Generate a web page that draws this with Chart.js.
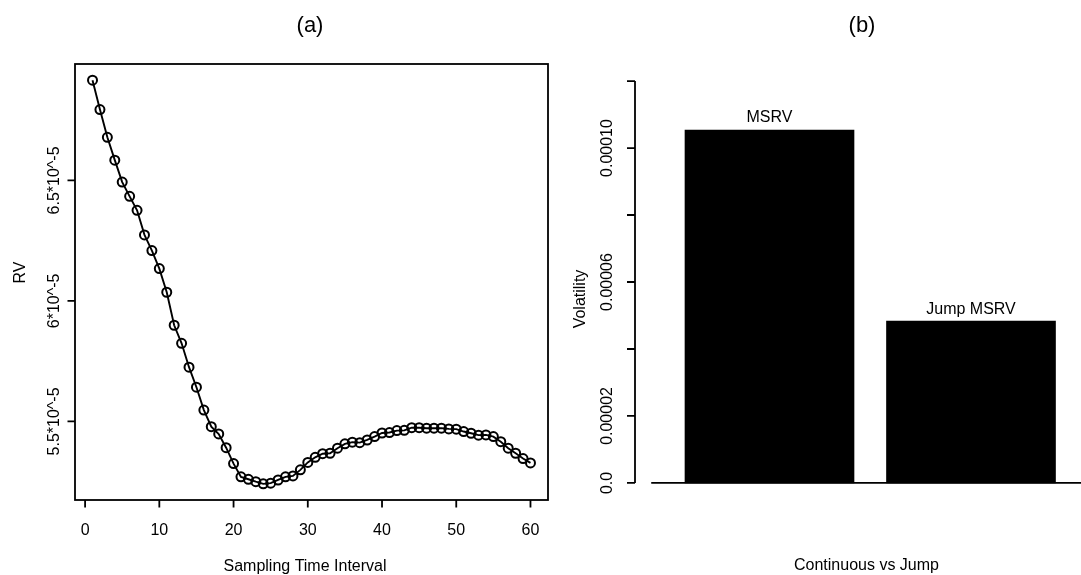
<!DOCTYPE html>
<html>
<head>
<meta charset="utf-8">
<script src="https://cdn.jsdelivr.net/npm/chart.js@4.4.0/dist/chart.umd.min.js"></script>
<style>
    body { margin: 0; background: #fff; overflow: hidden; width: 1081px; height: 575px; position: relative; }
    canvas { position: absolute; top: 0; }
    #rv-chart { left: 0; }
    #vol-chart { left: 540px; }
</style>
</head>
<body>
<canvas id="rv-chart" width="570" height="575"></canvas>
<canvas id="vol-chart" width="560" height="575"></canvas>
<script type="text/javascript">

    // panel (a): RV against sampling interval
    var intervals = [1, 2, 3, 4, 5, 6, 7, 8, 9, 10, 11, 12, 13, 14, 15, 16, 17, 18, 19, 20,
        21, 22, 23, 24, 25, 26, 27, 28, 29, 30, 31, 32, 33, 34, 35, 36, 37, 38, 39, 40,
        41, 42, 43, 44, 45, 46, 47, 48, 49, 50, 51, 52, 53, 54, 55, 56, 57, 58, 59, 60];
    var rvValues = [6.916e-5, 6.794e-5, 6.679e-5, 6.584e-5, 6.493e-5, 6.434e-5, 6.376e-5, 6.274e-5, 6.209e-5, 6.134e-5,
        6.036e-5, 5.899e-5, 5.824e-5, 5.725e-5, 5.642e-5, 5.547e-5, 5.478e-5, 5.448e-5, 5.391e-5, 5.325e-5,
        5.270e-5, 5.260e-5, 5.250e-5, 5.241e-5, 5.244e-5, 5.257e-5, 5.270e-5, 5.274e-5, 5.299e-5, 5.330e-5,
        5.351e-5, 5.366e-5, 5.368e-5, 5.389e-5, 5.407e-5, 5.414e-5, 5.412e-5, 5.423e-5, 5.437e-5, 5.452e-5,
        5.454e-5, 5.462e-5, 5.463e-5, 5.474e-5, 5.474e-5, 5.472e-5, 5.472e-5, 5.472e-5, 5.469e-5, 5.468e-5,
        5.458e-5, 5.451e-5, 5.443e-5, 5.444e-5, 5.437e-5, 5.416e-5, 5.389e-5, 5.368e-5, 5.346e-5, 5.328e-5];
    var rvXTicks = [0, 10, 20, 30, 40, 50, 60];
    var rvYTicks = [5.5e-5, 6e-5, 6.5e-5];
    var rvYTickLabels = ['5.5*10^-5', '6*10^-5', '6.5*10^-5'];

    // panel (b): continuous vs jump volatility
    var barNames = ['MSRV', 'Jump MSRV'];
    var barValues = [1.054e-4, 4.83e-5];
    var volTicks = [0, 2e-5, 4e-5, 6e-5, 8e-5, 1e-4, 1.2e-4];
    var volTickLabels = ['0.0', '0.00002', '', '0.00006', '', '0.00010', ''];

    var FONT = "'Liberation Sans', Arial, sans-serif";

    function vText(ctx, text, x, y) {
        // reads bottom-to-top, baseline on the right at x
        ctx.save();
        ctx.translate(x, y);
        ctx.rotate(-Math.PI / 2);
        ctx.textAlign = 'center';
        ctx.textBaseline = 'alphabetic';
        ctx.fillText(text, 0, 0);
        ctx.restore();
    }

    var rvAxes = {
        id: 'rvAxes',
        afterDraw: function(chart) {
            var ctx = chart.ctx, a = chart.chartArea;
            var xs = chart.scales.x, ys = chart.scales.y;
            ctx.save();
            ctx.strokeStyle = '#000';
            ctx.fillStyle = '#000';
            ctx.lineWidth = 1.8;
            ctx.strokeRect(a.left, a.top, a.right - a.left, a.bottom - a.top);

            ctx.font = '16px ' + FONT;
            ctx.textAlign = 'center';
            ctx.textBaseline = 'alphabetic';
            ctx.beginPath();
            for (var i = 0; i < rvXTicks.length; i++) {
                var px = xs.getPixelForValue(rvXTicks[i]);
                ctx.moveTo(px, a.bottom);
                ctx.lineTo(px, a.bottom + 7.5);
                ctx.fillText(String(rvXTicks[i]), px, 535);
            }
            for (var j = 0; j < rvYTicks.length; j++) {
                var py = ys.getPixelForValue(rvYTicks[j]);
                ctx.moveTo(a.left, py);
                ctx.lineTo(a.left - 7.5, py);
                vText(ctx, rvYTickLabels[j], 59, py);
            }
            ctx.stroke();

            ctx.fillText('Sampling Time Interval', 305, 570.5);
            vText(ctx, 'RV', 25, 272.5);
            ctx.font = '22px ' + FONT;
            ctx.fillText('(a)', 310, 31.5);
            ctx.restore();
        }
    };

    var volAxes = {
        id: 'volAxes',
        afterDraw: function(chart) {
            var ctx = chart.ctx, a = chart.chartArea;
            var xs = chart.scales.x, ys = chart.scales.y;
            ctx.save();
            ctx.strokeStyle = '#000';
            ctx.fillStyle = '#000';
            ctx.lineWidth = 1.8;
            ctx.font = '16px ' + FONT;

            ctx.beginPath();
            var y0 = ys.getPixelForValue(volTicks[0]);
            var yTop = ys.getPixelForValue(volTicks[volTicks.length - 1]);
            ctx.moveTo(a.left, y0);
            ctx.lineTo(a.left, yTop);
            for (var i = 0; i < volTicks.length; i++) {
                var py = ys.getPixelForValue(volTicks[i]);
                ctx.moveTo(a.left, py);
                ctx.lineTo(a.left - 8, py);
                if (volTickLabels[i]) vText(ctx, volTickLabels[i], 72, py);
            }
            // zero line under the bars
            ctx.moveTo(xs.getPixelForValue(-0.587), y0);
            ctx.lineTo(a.right, y0);
            ctx.stroke();

            ctx.textAlign = 'center';
            ctx.textBaseline = 'alphabetic';
            for (var k = 0; k < barNames.length; k++) {
                ctx.fillText(barNames[k], xs.getPixelForValue(k), ys.getPixelForValue(barValues[k]) - 7.5);
            }

            ctx.fillText('Continuous vs Jump', 326.5, 570);
            vText(ctx, 'Volatility', 45, 299);
            ctx.font = '22px ' + FONT;
            ctx.fillText('(b)', 322, 31.5);
            ctx.restore();
        }
    };

    function SetRVChart(id) {
        var ctx = document.getElementById(id).getContext('2d');
        var points = [];
        for (var i = 0; i < intervals.length; i++) {
            points.push({x: intervals[i], y: rvValues[i]});
        }
        return new Chart(ctx, {
            type: 'line',
            data: {
                datasets: [{
                    label: 'RV',
                    data: points,
                    borderColor: '#000',
                    borderWidth: 1.9,
                    pointRadius: 4.5,
                    pointBorderWidth: 2,
                    pointBorderColor: '#000',
                    pointBackgroundColor: 'rgba(0,0,0,0)',
                    tension: 0
                }]
            },
            options: {
                responsive: false,
                animation: false,
                devicePixelRatio: 1,
                layout: {padding: {left: 75, right: 22, top: 64, bottom: 75}},
                plugins: {legend: {display: false}, tooltip: {enabled: false}},
                scales: {
                    x: {type: 'linear', display: false, offset: false, min: -1.36, max: 62.36},
                    y: {type: 'linear', display: false, min: 5.174e-5, max: 6.983e-5}
                }
            },
            plugins: [rvAxes]
        });
    }

    function SetVolChart(id) {
        var ctx = document.getElementById(id).getContext('2d');
        var points = [];
        for (var i = 0; i < barValues.length; i++) {
            points.push({x: i, y: barValues[i]});
        }
        return new Chart(ctx, {
            type: 'bar',
            data: {
                datasets: [{
                    label: 'Volatility',
                    data: points,
                    backgroundColor: '#000',
                    borderWidth: 0,
                    barThickness: 169
                }]
            },
            options: {
                responsive: false,
                animation: false,
                devicePixelRatio: 1,
                layout: {padding: {left: 95, right: 5, top: 65, bottom: 76}},
                plugins: {legend: {display: false}, tooltip: {enabled: false}},
                scales: {
                    x: {type: 'linear', display: false, offset: false, min: -0.6675, max: 1.6154},
                    y: {type: 'linear', display: false, min: -4.8e-6, max: 1.248e-4}
                }
            },
            plugins: [volAxes]
        });
    }

    SetRVChart('rv-chart');
    SetVolChart('vol-chart');

</script>
</body>
</html>
